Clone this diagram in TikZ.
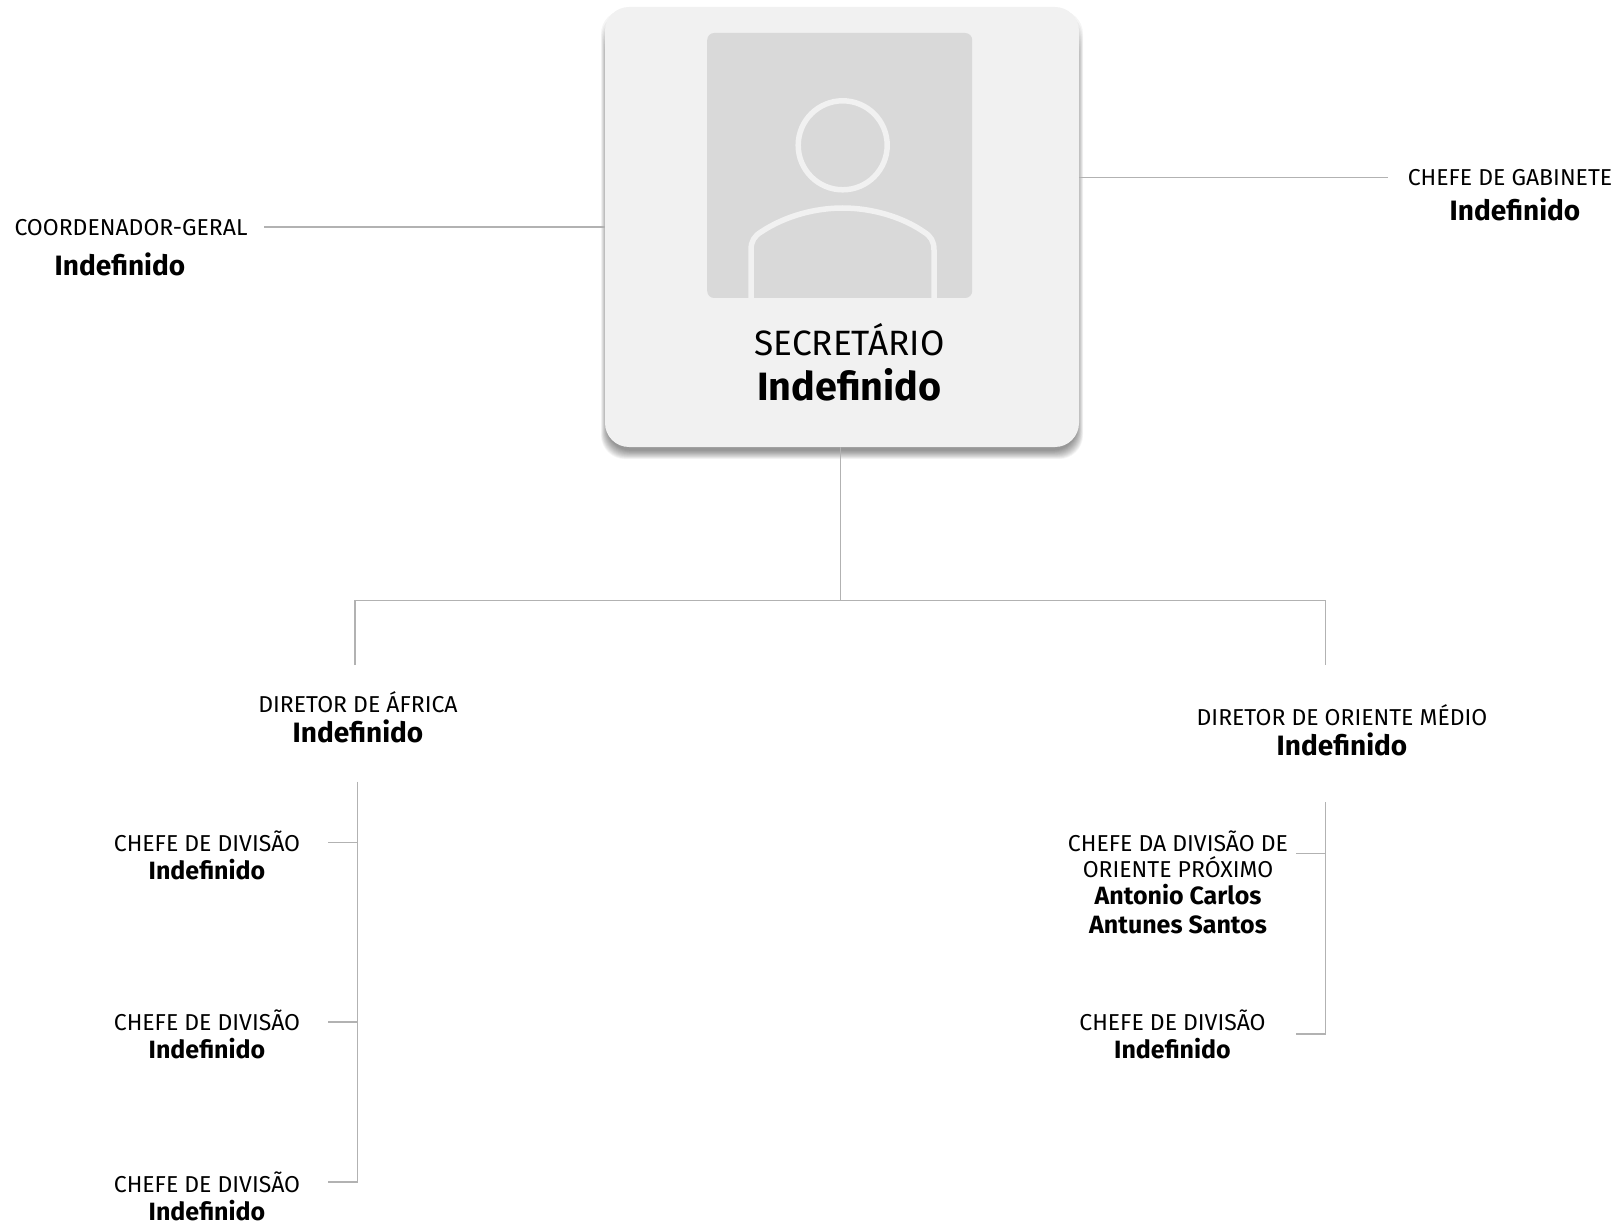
\documentclass[tikz,border=0pt]{standalone}
\usepackage{fontspec}
\setmainfont{Fira Sans}
\colorlet{linegray}{black!30}
\definecolor{cardfill}{HTML}{F1F1F1}
\definecolor{photofill}{HTML}{D9D9D9}
\newcommand{\namelg}{\bfseries\fontsize{28}{28}\selectfont}
\newcommand{\namesm}{\bfseries\fontsize{25}{28}\selectfont}
\tikzset{
  link/.style={draw=linegray,line width=1.2pt},
  person/.style={inner sep=0pt,outer sep=0pt,align=center,font=\fontsize{23}{28}\selectfont},
  card/.style={inner sep=0pt,outer sep=0pt,fill=cardfill,rounded corners=24pt,minimum width=474pt,minimum height=440pt},
  photo/.style={inner sep=0pt,outer sep=0pt,fill=photofill,rounded corners=7pt,minimum width=265pt,minimum height=265pt},
  glyph/.style={draw=cardfill,line width=5.5pt},
}
\begin{document}
\begin{tikzpicture}[x=1pt,y=-1pt]
\useasboundingbox (0,0) rectangle (1617,1222);
% card shadow
\foreach \e in {-2,-1.5,-1,-0.5,0,0.5,1,1.5,2,2.5,3,3.5,4}{
  \fill[black,opacity=0.04,rounded corners=24pt] (605-\e,30-\e*5) rectangle (1079+\e,453.5+\e*1.4);
}
\node[card] (card) at (842,227) {};
\node[photo] (photo) at (839.7,165.5) {};
% avatar
\begin{scope}
  \clip (photo.south west) rectangle (photo.north east);
  \draw[glyph] (842.7,145.3) circle (44.5pt);
  \draw[glyph] (751,305) -- (751,250) .. controls (751,241) and (754.5,236) .. (761,232)
     .. controls (785,216) and (815,208) .. (842.7,208)
     .. controls (870,208) and (901,216) .. (924,232)
     .. controls (930.5,236) and (934,241) .. (934,250) -- (934,305);
\end{scope}
\node[inner sep=0pt,font=\fontsize{35.2}{35}\selectfont] (sectitle) at (849.5,340) {SECRETÁRIO};
\node[inner sep=0pt,font=\bfseries\fontsize{39.5}{38}\selectfont] (secname) at (849.5,385) {Indefinido};
% people
\node[person] (coord) at (131,247.6) {COORDENADOR-GERAL\\[11.6pt]\hspace*{-22pt}{\namelg Indefinido}};
\node[person] (gab) at (1510,195.5) {CHEFE DE GABINETE\\[7pt]\hspace*{10pt}{\namelg Indefinido}};
\node[person] (afr) at (358,717.5) {DIRETOR DE ÁFRICA\\[2pt]{\namelg Indefinido}};
\node[person] (ori) at (1342,730.5) {DIRETOR DE ORIENTE MÉDIO\\[1.5pt]{\namelg Indefinido}};
\node[person] (a1) at (207,855.7) {CHEFE DE DIVISÃO\\{\namesm Indefinido}};
\node[person] (a2) at (207,1034.5) {CHEFE DE DIVISÃO\\{\namesm Indefinido}};
\node[person] (a3) at (207,1196) {CHEFE DE DIVISÃO\\{\namesm Indefinido}};
\node[person] (o1) at (1178,882.3) {CHEFE DA DIVISÃO DE\\[-2.2pt]ORIENTE PRÓXIMO\\[-1.2pt]{\namesm Antonio Carlos}\\[0.9pt]{\namesm Antunes Santos}};
\node[person] (o2) at (1172.5,1034.5) {CHEFE DE DIVISÃO\\{\namesm Indefinido}};
% junctions
\coordinate (cs) at (264,227);
\coordinate (ge) at (1388,177.5);
\coordinate (hub) at (840.5,600.5);
\coordinate (lc) at (355,600.5);
\coordinate (rc) at (1325.5,600.5);
\coordinate (ld) at (355,665);
\coordinate (rd) at (1325.5,665);
\coordinate (lt) at (357.5,781.5);
\coordinate (lb) at (357.5,1182);
\coordinate (rt) at (1325.5,802);
\coordinate (rb) at (1325.5,1034);
\coordinate (a1t) at (328,842.5);
\coordinate (a2t) at (328,1022);
\coordinate (a3t) at (328,1182);
\coordinate (o1t) at (1296,853.7);
\coordinate (o2t) at (1296,1034);
% connectors
\draw[link] (cs) -- (card.west |- cs);
\draw[link] (card.east |- ge) -- (ge);
\draw[link] (card.south -| hub) -- (hub);
\draw[link] (ld) -- (lc) -- (rc) -- (rd);
\draw[link] (lt) -- (lb) -- (a3t);
\draw[link] (a1t) -- (lt |- a1t);
\draw[link] (a2t) -- (lt |- a2t);
\draw[link] (rt) -- (rb) -- (o2t);
\draw[link] (o1t) -- (rt |- o1t);
\end{tikzpicture}
\end{document}
